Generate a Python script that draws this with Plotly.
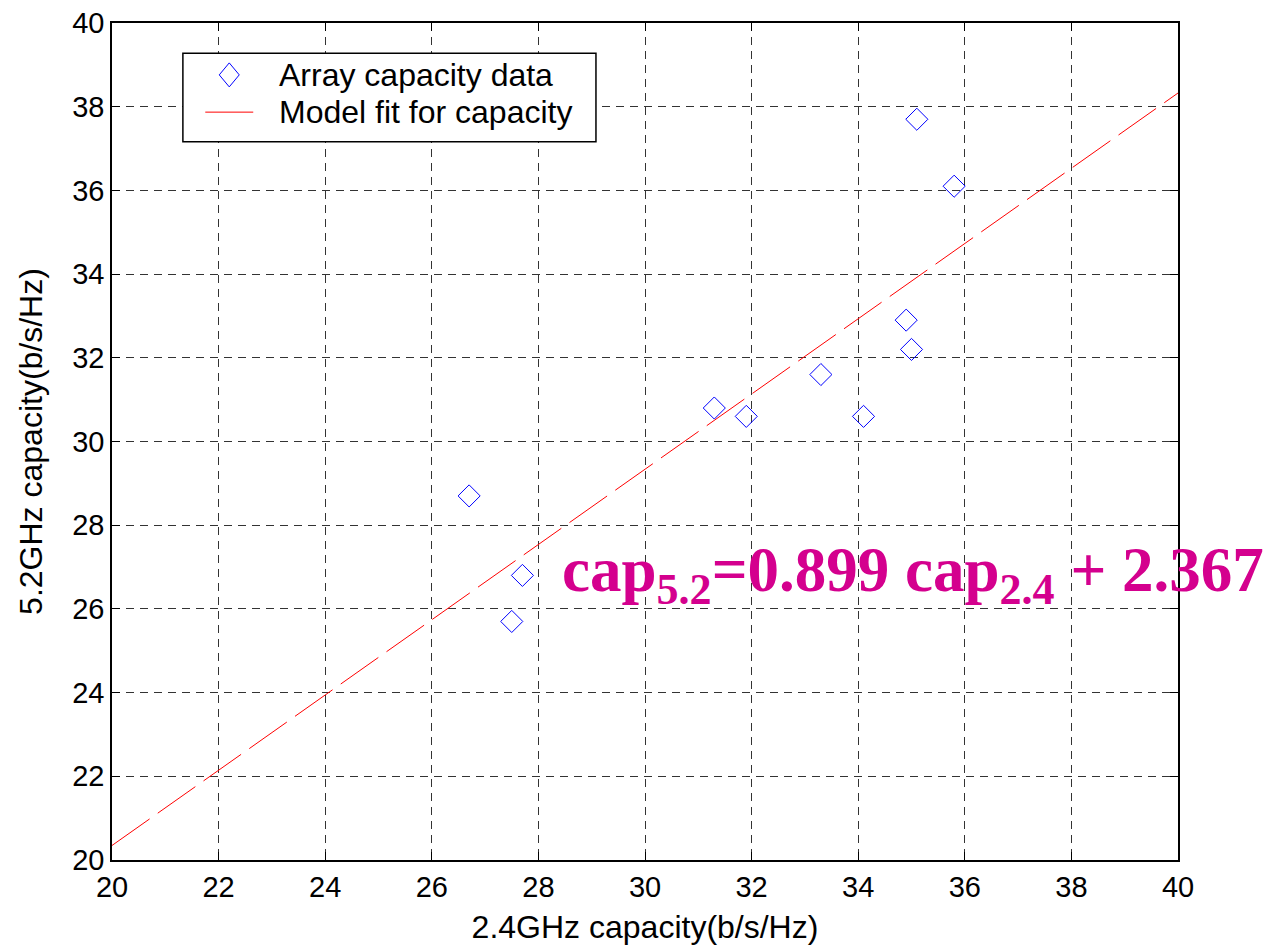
import numpy as np
import plotly.graph_objects as go

# Measured array capacities (b/s/Hz) at the two frequencies
cap_24 = [26.7, 27.5, 27.7, 31.3, 31.9, 33.3, 34.1, 34.9, 35.0, 35.1, 35.8]
cap_52 = [28.7, 25.7, 26.8, 30.8, 30.6, 31.6, 30.6, 32.9, 32.2, 37.7, 36.1]

# Linear model: cap_5.2 = slope * cap_2.4 + intercept
slope = 0.899
intercept = 2.367
fit_x = [20, 40]
fit_y = [slope * v + intercept for v in fit_x]

tick_vals = list(range(20, 41, 2))
series_names = ["Array capacity data", "Model fit for capacity"]

DATA_BLUE = "#0000ff"
FIT_RED = "#ff0000"

fig = go.Figure()
fig.add_trace(go.Scatter(
    x=cap_24, y=cap_52, mode="markers", name=series_names[0], showlegend=False,
    marker=dict(symbol="diamond-open", size=17, color=DATA_BLUE,
                line=dict(width=1, color=DATA_BLUE)),
))
fig.add_trace(go.Scatter(
    x=fit_x, y=fit_y, mode="lines", name=series_names[1], showlegend=False,
    line=dict(color=FIT_RED, width=1, dash="46px,10px"),
))

axis_common = dict(
    range=[20, 40], tickvals=tick_vals, showgrid=True, automargin=False,
    gridcolor="#333333", gridwidth=1, griddash="8px,6px",
    showline=True, linecolor="black", linewidth=1.5, mirror="ticks",
    ticks="inside", ticklen=8, tickcolor="black",
    zeroline=False,
    tickfont=dict(family="Liberation Sans, Arial", size=29, color="black"),
)

title_font = dict(family="Liberation Sans, Arial", size=32, color="black")
fig.update_xaxes(**axis_common,
                 title=dict(text="2.4GHz capacity(b/s/Hz)", standoff=14, font=title_font))
fig.update_yaxes(**axis_common,
                 title=dict(text="5.2GHz capacity(b/s/Hz)", standoff=20, font=title_font))

# Boxed key in the upper-left corner (axis units)
box_x0, box_x1 = 21.33, 29.08
box_y0, box_y1 = 37.16, 39.28
row_y = [38.76, 37.87]
sample_x = 22.2
text_x = 23.1

fig.add_shape(type="rect", xref="x", yref="y", x0=box_x0, x1=box_x1,
              y0=box_y0, y1=box_y1, fillcolor="white",
              line=dict(color="black", width=1.5), layer="above")
fig.add_shape(type="path", xref="x", yref="y",
              xsizemode="pixel", ysizemode="pixel",
              xanchor=sample_x, yanchor=row_y[0],
              path="M0,-12 L10,0 L0,12 L-10,0 Z",
              line=dict(color=DATA_BLUE, width=1), layer="above")
fig.add_shape(type="line", xref="x", yref="y",
              x0=sample_x - 0.45, x1=sample_x + 0.45, y0=row_y[1], y1=row_y[1],
              line=dict(color=FIT_RED, width=1), layer="above")
for name, yy in zip(series_names, row_y):
    fig.add_annotation(x=text_x, y=yy, xref="x", yref="y",
                       xanchor="left", yanchor="middle", showarrow=False,
                       text=name,
                       font=dict(family="Liberation Sans, Arial", size=32, color="black"))

fig.add_annotation(
    x=28.4, y=26.82, xref="x", yref="y", xanchor="left", yanchor="middle",
    text="cap<sub>5.2</sub>=0.899 cap<sub>2.4</sub> + 2.367",
    showarrow=False,
    font=dict(family="Liberation Serif, Times New Roman", size=63, color="#d4008e",
              weight="bold"),
)

fig.update_layout(
    width=1266, height=945,
    margin=dict(l=112, r=88, t=23, b=85),
    plot_bgcolor="white", paper_bgcolor="white",
    showlegend=False,
)

fig.write_html("out.html")
